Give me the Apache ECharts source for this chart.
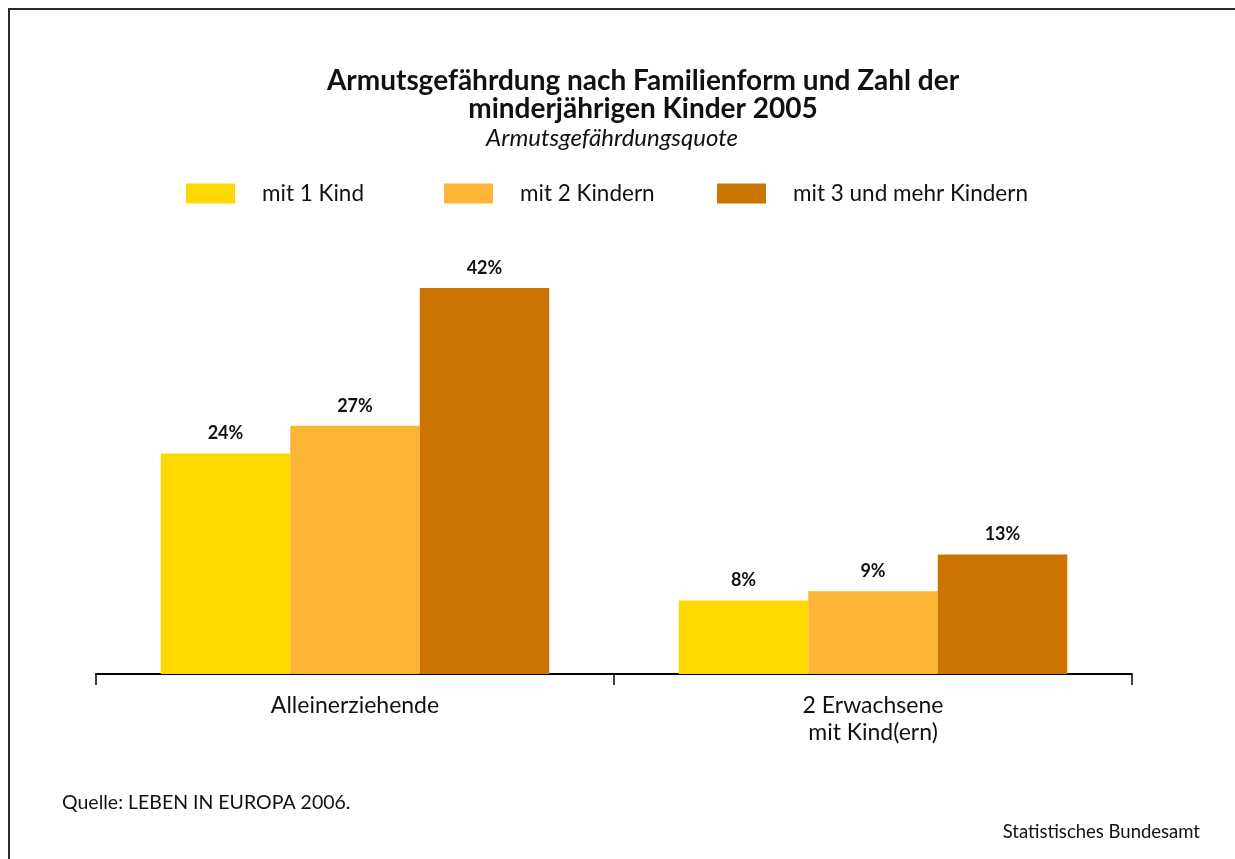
<!DOCTYPE html>
<html>
<head>
<meta charset="utf-8">
<script src="https://cdn.jsdelivr.net/npm/echarts@6/dist/echarts.min.js"></script>
<style>
  html, body { margin: 0; padding: 0; background: #fff; }
  #main { width: 1235px; height: 859px; }
</style>
</head>
<body>
<div id="main"></div>
<script>
// Daten
const categories = ['Alleinerziehende', '2 Erwachsene\nmit Kind(ern)'];
const seriesNames = ['mit 1 Kind', 'mit 2 Kindern', 'mit 3 und mehr Kindern'];
const mit1Kind = [24, 8];
const mit2Kindern = [27, 9];
const mit3Kindern = [42, 13];
const colors = ['#FFD800', '#FDB535', '#CC7400'];

const FONT = 'Lato';
const chart = echarts.init(document.getElementById('main'));

function bar(name, data, color) {
  return {
    name: name,
    type: 'bar',
    data: data,
    barGap: '0%',
    barCategoryGap: '25%',
    itemStyle: { color: color },
    label: {
      show: true,
      position: 'top',
      distance: 11,
      formatter: '{c}%',
      fontFamily: FONT,
      fontWeight: 'bold',
      fontSize: 18,
      color: '#111'
    },
    emphasis: { disabled: true }
  };
}

function legendAt(name, left) {
  return {
    data: [name],
    left: left,
    top: 182,
    padding: 0,
    itemWidth: 49,
    itemHeight: 20,
    icon: 'rect',
    selectedMode: false,
    textStyle: { fontFamily: FONT, fontSize: 22.5, color: '#111', padding: [0, 0, 0, 22] }
  };
}

const option = {
  backgroundColor: '#fff',
  animation: false,
  title: [
    {
      text: 'Armutsgefährdung nach Familienform und Zahl der\nminderjährigen Kinder 2005',
      left: 643,
      top: 67,
      padding: 0,
      textAlign: 'center',
      textStyle: { fontFamily: FONT, fontWeight: 'bold', fontSize: 28, lineHeight: 28, color: '#111' }
    },
    {
      text: 'Armutsgefährdungsquote',
      left: 612,
      top: 126,
      padding: 0,
      textAlign: 'center',
      textStyle: { fontFamily: FONT, fontStyle: 'italic', fontWeight: 'normal', fontSize: 24, color: '#111' }
    }
  ],
  legend: [
    legendAt(seriesNames[0], 186),
    legendAt(seriesNames[1], 444),
    legendAt(seriesNames[2], 717)
  ],
  grid: { left: 96, right: 103, top: 260.4, bottom: 185 },
  xAxis: {
    type: 'category',
    data: categories,
    axisLine: { lineStyle: { color: '#000', width: 2 } },
    axisTick: { show: true, length: 11, lineStyle: { color: '#000', width: 1.5 } },
    axisLabel: { fontFamily: FONT, fontSize: 23, color: '#111', lineHeight: 27, margin: 18 }
  },
  yAxis: {
    type: 'value',
    min: 0,
    max: 45,
    show: false,
    splitLine: { show: false }
  },
  series: [
    bar(seriesNames[0], mit1Kind, colors[0]),
    bar(seriesNames[1], mit2Kindern, colors[1]),
    bar(seriesNames[2], mit3Kindern, colors[2])
  ],
  graphic: [
    {
      type: 'rect',
      shape: { x: 9, y: 9, width: 1240, height: 870 },
      style: { fill: 'none', stroke: '#2a2a2a', lineWidth: 2 },
      silent: true
    },
    {
      type: 'text',
      left: 62,
      top: 793,
      style: { text: 'Quelle: LEBEN IN EUROPA 2006.', fontFamily: FONT, fontSize: 19.5, fill: '#111' }
    },
    {
      type: 'text',
      right: 35,
      top: 823,
      style: { text: 'Statistisches Bundesamt', fontFamily: FONT, fontSize: 18.5, fill: '#111' }
    }
  ]
};

chart.setOption(option);
</script>
</body>
</html>
